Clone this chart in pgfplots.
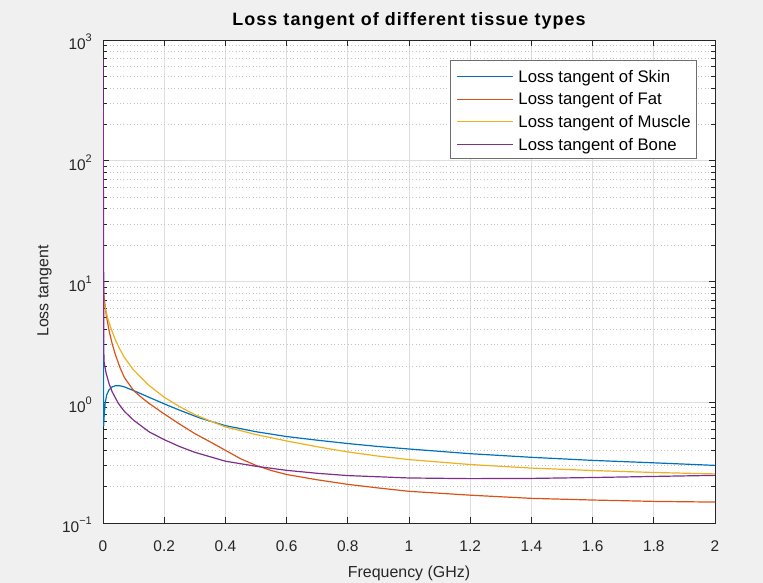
\documentclass[border=0pt]{standalone}
\usepackage{fontspec}
\setmainfont{Liberation Sans}
\usepackage{pgfplots}
\pgfplotsset{compat=1.18}
\definecolor{figbg}{RGB}{240,240,240}
\definecolor{axc}{RGB}{38,38,38}
\definecolor{mblue}{rgb}{0,0.447,0.741}
\definecolor{morange}{rgb}{0.85,0.325,0.098}
\definecolor{myellow}{rgb}{0.929,0.694,0.125}
\definecolor{mpurple}{rgb}{0.494,0.184,0.556}
\definecolor{gridmaj}{RGB}{222,222,222}
\definecolor{gridmin}{RGB}{195,195,195}
\definecolor{legedge}{RGB}{110,110,110}
\newcommand{\tenpow}[1]{10\raisebox{8bp}{\fontsize{11}{11}\selectfont #1}}
\begin{document}
\begin{tikzpicture}[x=1bp,y=1bp]
\fill[figbg] (0,0) rectangle (763,583);
\useasboundingbox (0,0) rectangle (763,583);
\begin{axis}[
  at={(103bp,60bp)}, anchor=south west,
  scale only axis, width=612bp, height=483bp,
  ymode=log, xmin=0, xmax=2, ymin=0.1, ymax=1000,
  xtick={0,0.2,0.4,0.6,0.8,1,1.2,1.4,1.6,1.8,2},
  xticklabels={0,0.2,0.4,0.6,0.8,1,1.2,1.4,1.6,1.8,2},
  ytick={0.1,1,10,100,1000},
  yticklabels={\tenpow{−1},\tenpow{0},\tenpow{1},\tenpow{2},\tenpow{3}},
  minor ytick={0.2,0.3,0.4,0.5,0.6,0.7,0.8,0.9,2,3,4,5,6,7,8,9,20,30,40,50,60,70,80,90,200,300,400,500,600,700,800,900},
  tick align=inside, major tick length=6bp, minor tick length=4bp,
  xmajorgrids, ymajorgrids, yminorgrids,
  major grid style={color=gridmaj, line width=0.7bp},
  minor grid style={color=gridmin, line width=0.7bp, dash pattern=on 0.8bp off 2.6bp},
  axis line style={axc, line width=0.8bp},
  every tick/.style={axc, line width=0.7bp},
  axis background/.style={fill=white},
  tick label style={font=\fontsize{15.5}{18}\selectfont, text=axc},
  xticklabel style={anchor=base, yshift=-29bp},
  yticklabel style={anchor=base east, inner xsep=0pt, xshift=-11bp, yshift=-10bp},
  title={Loss tangent of different tissue types},
  title style={font=\fontsize{18}{21}\selectfont\bfseries\addfontfeatures{LetterSpace=6}, at={(0.5,1.0172)}, anchor=base, inner sep=0pt},
  xlabel={Frequency (GHz)},
  xlabel style={font=\fontsize{16}{19}\selectfont, text=axc, at={(0.5,-0.1118)}, anchor=base, inner sep=0pt},
  ylabel={Loss tangent},
  ylabel style={font=\fontsize{16}{19}\selectfont, text=axc, at={(-0.0894,0.48)}, anchor=base, inner sep=0pt},
  legend style={at={(0.9706,0.9586)}, anchor=north east, draw=legedge, line width=0.8bp, fill=white,
    font=\fontsize{16.8}{19}\selectfont, text=black, inner xsep=6bp, inner ysep=6.7bp, row sep=6.8bp,
    nodes={inner sep=0bp, text height=15bp, text depth=1bp},
    /tikz/every odd column/.append style={column sep=5bp}},
  legend cell align=left,
  legend image code/.code={\draw[#1, line width=1.1bp] (0bp,-1.2bp) -- (56bp,-1.2bp);},
]
\addplot[mblue, line width=1.2bp] coordinates {
(0,33) (0.002,0.63) (0.004,0.78) (0.007,0.98) (0.012,1.15) (0.02,1.27) (0.03,1.34) (0.04,1.37)
(0.055,1.37) (0.07,1.34) (0.1,1.25) (0.15,1.1) (0.2,0.97) (0.25,0.86) (0.317,0.74) (0.4,0.64)
(0.5,0.57) (0.6,0.52) (0.7,0.485) (0.8,0.455) (0.9,0.43) (1.0,0.41) (1.2,0.375) (1.4,0.35)
(1.6,0.33) (1.8,0.315) (2.0,0.30)};
\addlegendentry{Loss tangent of Skin}
\addplot[morange, line width=1.2bp] coordinates {
(0,12) (0.003,7.6) (0.01,5.4) (0.02,3.9) (0.03,3.05) (0.04,2.5) (0.055,1.95) (0.07,1.6)
(0.1,1.25) (0.125,1.1) (0.15,0.98) (0.2,0.8) (0.25,0.66) (0.3,0.55) (0.35,0.47) (0.4,0.40)
(0.45,0.34) (0.5,0.30) (0.55,0.272) (0.6,0.252) (0.7,0.228) (0.8,0.209) (0.9,0.195) (1.0,0.183)
(1.2,0.17) (1.4,0.16) (1.6,0.155) (1.8,0.151) (2.0,0.149)};
\addlegendentry{Loss tangent of Fat}
\addplot[myellow, line width=1.2bp] coordinates {
(0,9) (0.003,6.8) (0.0065,6.2) (0.015,5.0) (0.026,4.1) (0.04,3.3) (0.055,2.75) (0.07,2.35)
(0.1,1.85) (0.15,1.38) (0.2,1.1) (0.25,0.92) (0.3,0.79) (0.35,0.7) (0.4,0.625) (0.5,0.54)
(0.6,0.478) (0.7,0.428) (0.8,0.388) (0.9,0.358) (1.0,0.335) (1.2,0.305) (1.4,0.285)
(1.6,0.272) (1.8,0.262) (2.0,0.255)};
\addlegendentry{Loss tangent of Muscle}
\addplot[mpurple, line width=1.2bp] coordinates {
(0,700) (0.003,2.2) (0.01,1.75) (0.02,1.42) (0.03,1.22) (0.05,0.98) (0.07,0.84) (0.1,0.71)
(0.15,0.57) (0.2,0.49) (0.25,0.43) (0.3,0.385) (0.4,0.325) (0.5,0.295) (0.6,0.273)
(0.7,0.258) (0.8,0.247) (1.0,0.236) (1.2,0.233) (1.4,0.234) (1.6,0.238) (1.8,0.243) (2.0,0.248)};
\addlegendentry{Loss tangent of Bone}
\end{axis}
\end{tikzpicture}
\end{document}
